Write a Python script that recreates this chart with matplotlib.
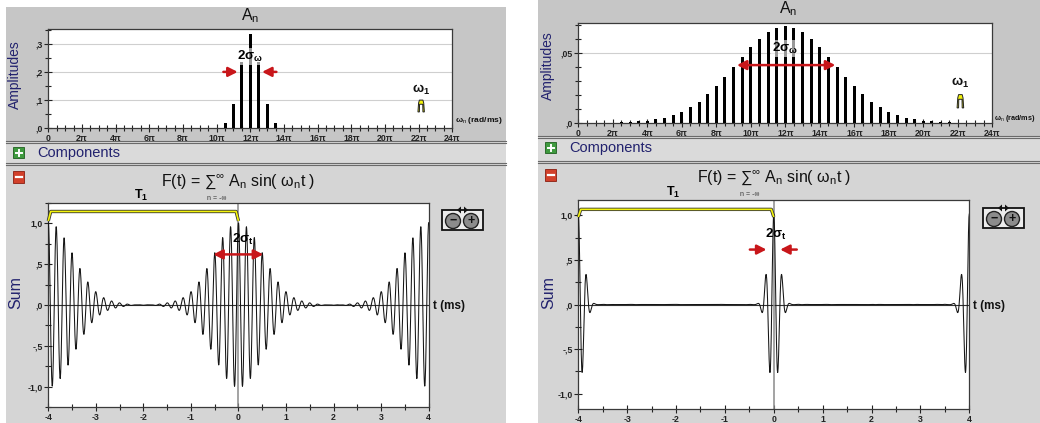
import numpy as np
import matplotlib
matplotlib.use("Agg")
import matplotlib.pyplot as plt
from matplotlib.patches import Rectangle, Circle, Polygon
from matplotlib.ticker import FixedLocator, MultipleLocator

plt.rcParams['font.family'] = ['Liberation Sans', 'DejaVu Sans']
plt.rcParams['mathtext.fontset'] = 'custom'
plt.rcParams['mathtext.rm'] = 'Liberation Sans'
plt.rcParams['mathtext.it'] = 'Liberation Sans:italic'
plt.rcParams['mathtext.bf'] = 'Liberation Sans:bold'

# ---------------- data ----------------
PI = np.pi
harmonic_step = PI / 2          # omega_1 (rad/ms), T1 = 4 ms

left_harmonics = [21, 22, 23, 24, 25, 26, 27]
left_amplitudes = [0.018, 0.085, 0.235, 0.333, 0.235, 0.085, 0.018]

right_harmonics = list(range(1, 49))
right_amplitudes = [0.0002, 0.0003, 0.0004, 0.0005, 0.0007, 0.0010, 0.0014, 0.0020,
                    0.0028, 0.0040, 0.0058, 0.0083, 0.0114, 0.0155, 0.0207, 0.0267,
                    0.0333, 0.0405, 0.0476, 0.0543, 0.0602, 0.0655, 0.0683, 0.0695,
                    0.0683, 0.0655, 0.0602, 0.0543, 0.0476, 0.0405, 0.0333, 0.0267,
                    0.0207, 0.0155, 0.0114, 0.0083, 0.0058, 0.0040, 0.0028, 0.0020,
                    0.0014, 0.0010, 0.0007, 0.0005, 0.0004, 0.0003, 0.0002, 0.0002]

freq_tick_multiples = list(range(0, 25, 2))
freq_tick_labels = ["0"] + [f"{k}π" for k in freq_tick_multiples[1:]]
time_ticks = [-4, -3, -2, -1, 0, 1, 2, 3, 4]
time_tick_labels = ["-4", "-3", "-2", "-1", "0", "1", "2", "3", "4"]
sum_ticks = [-1.0, -0.5, 0.0, 0.5, 1.0]
sum_tick_labels = ["-1,0", "-,5", ",0", ",5", "1,0"]
left_amp_ticks = [0.0, 0.1, 0.2, 0.3]
left_amp_labels = [",0", ",1", ",2", ",3"]
right_amp_ticks = [0.0, 0.05]
right_amp_labels = [",0", ",05"]

# ---------------- figure ----------------
W, H = 1040, 423
fig = plt.figure(figsize=(W / 100, H / 100), dpi=100)
bg = fig.add_axes([0, 0, 1, 1], zorder=0)
bg.set_xlim(0, W)
bg.set_ylim(H, 0)
bg.axis('off')

NAVY = '#22226e'
RED = '#c8161a'
TOP_GRAY = '#c6c6c6'
COMP_GRAY = '#dadada'
BOT_GRAY = '#d5d5d5'


def px_axes(x0, y0, x1, y1, z=2):
    return fig.add_axes([x0 / W, 1 - y1 / H, (x1 - x0) / W, (y1 - y0) / H], zorder=z)


def panel(x0, x1, ytop, ycomp, ybot):
    bg.add_patch(Rectangle((x0, ytop), x1 - x0, ycomp - ytop, fc=TOP_GRAY, ec='none'))
    bg.add_patch(Rectangle((x0, ycomp), x1 - x0, ybot - ycomp, fc=COMP_GRAY, ec='none'))
    bg.add_patch(Rectangle((x0, ybot), x1 - x0, H - ybot, fc=BOT_GRAY, ec='none'))
    for yy in (ycomp - 1.2, ycomp + 1.5, ybot - 1.2, ybot + 1.5):
        bg.plot([x0, x1], [yy, yy], color='#6a6a6a', lw=0.8)
    # plus icon
    px, py = x0 + 7, ycomp + 5.5
    bg.add_patch(Rectangle((px, py), 11, 11, fc='#3f9a3f', ec='#1f5f1f', lw=0.6))
    bg.plot([px + 2.5, px + 8.5], [py + 5.5, py + 5.5], color='white', lw=1.4)
    bg.plot([px + 5.5, px + 5.5], [py + 2.5, py + 8.5], color='white', lw=1.4)
    bg.text(px + 24, py + 5.5, "Components", color=NAVY, fontsize=10.5, va='center', ha='left')
    # minus icon
    mx, my = x0 + 7, ybot + 7
    bg.add_patch(Rectangle((mx, my), 11, 12, fc='#d2402a', ec='#8a1e10', lw=0.6))
    bg.plot([mx + 2.5, mx + 8.5], [my + 6, my + 6], color='white', lw=1.6)


panel(6, 506, 7, 142, 164)
panel(538, 1040, 0, 137, 162)


def zoom_icon(x0, y0):
    bg.add_patch(Rectangle((x0, y0 + 4), 41, 20, fc='#ececec', ec='#111111', lw=1.3))
    for cx, sym in ((x0 + 11, '−'), (x0 + 29, '+')):
        bg.add_patch(Circle((cx, y0 + 15), 7.5, fc='#8c8c8c', ec='#222222', lw=1.0))
        bg.text(cx, y0 + 15, sym, color='#111111', fontsize=9, fontweight='bold',
                ha='center', va='center')
    bg.add_patch(Polygon([[x0 + 19, y0 + 0.5], [x0 + 19, y0 + 7.5], [x0 + 15, y0 + 4]],
                         fc='#111111', ec='none'))
    bg.add_patch(Polygon([[x0 + 22, y0 + 0.5], [x0 + 22, y0 + 7.5], [x0 + 26, y0 + 4]],
                         fc='#111111', ec='none'))


zoom_icon(442, 206)
zoom_icon(983, 204)


def style_axes(ax):
    for s in ax.spines.values():
        s.set_color('#3a3a3a')
        s.set_linewidth(0.9)
    ax.set_facecolor('white')
    ax.tick_params(which='both', direction='inout', colors='#222222', labelsize=6.3,
                   width=0.8, pad=1.0)
    ax.tick_params(which='major', length=6)
    ax.tick_params(which='minor', length=5)
    for lab in ax.get_xticklabels() + ax.get_yticklabels():
        lab.set_fontweight('bold')


def omega1_marker(ax, xc, yl, yh, ylabel):
    dx = 0.6
    ax.add_patch(Polygon([[xc - dx, yl], [xc - dx * 0.8, yh - (yh - yl) * 0.25],
                          [xc - dx * 0.55, yh], [xc + dx * 0.55, yh],
                          [xc + dx * 0.8, yh - (yh - yl) * 0.25], [xc + dx, yl],
                          [xc + dx * 0.55, yl], [xc + dx * 0.5, yh - (yh - yl) * 0.35],
                          [xc - dx * 0.5, yh - (yh - yl) * 0.35], [xc - dx * 0.55, yl]],
                         closed=True, fc='#f2f20a', ec='#222222', lw=0.7, zorder=4))
    ax.text(xc, ylabel, "ω$_\\mathbf{1}$", fontsize=9.5, fontweight='bold', ha='center',
            va='center', color='#111111')


def spectrum(ax, harmonics, amps, ymax, yticks, ylabels, minor_step, grid_vals):
    x = np.array(harmonics) * harmonic_step
    ax.bar(x, amps, width=0.55, color='black', zorder=3)
    ax.set_xlim(0, 24 * PI)
    ax.set_ylim(0, ymax)
    ax.xaxis.set_major_locator(FixedLocator([k * PI for k in freq_tick_multiples]))
    ax.set_xticklabels(freq_tick_labels)
    ax.xaxis.set_minor_locator(MultipleLocator(harmonic_step))
    ax.yaxis.set_major_locator(FixedLocator(yticks))
    ax.set_yticklabels(ylabels)
    ax.yaxis.set_minor_locator(MultipleLocator(minor_step))
    for g in grid_vals:
        ax.axhline(g, color='#cfcfcf', lw=0.8, zorder=1)
    style_axes(ax)


def sum_plot(ax, harmonics, amps, npts, ylim):
    t = np.linspace(-4, 4, npts)
    w = np.array(harmonics) * harmonic_step
    F = (np.array(amps)[:, None] * np.cos(w[:, None] * t[None, :])).sum(axis=0)
    ax.axhline(0, color='#333333', lw=0.8, zorder=2)
    ax.axvline(0, color='#8a8a8a', lw=1.1, zorder=2)
    ax.plot(t, F, color='#151515', lw=0.75, zorder=3)
    ax.set_xlim(-4, 4)
    ax.set_ylim(-ylim, ylim)
    ax.xaxis.set_major_locator(FixedLocator(time_ticks))
    ax.set_xticklabels(time_tick_labels)
    ax.xaxis.set_minor_locator(MultipleLocator(0.5))
    ax.yaxis.set_major_locator(FixedLocator(sum_ticks))
    ax.set_yticklabels(sum_tick_labels)
    ax.yaxis.set_minor_locator(MultipleLocator(0.25))
    style_axes(ax)


def t1_bracket(ax, y, ylo, labely):
    xs = [-4, -3.95, -0.05, 0]
    ys = [ylo, y, y, ylo]
    ax.plot(xs, ys, color='#333333', lw=2.4, zorder=5, solid_capstyle='butt', clip_on=False)
    ax.plot(xs, ys, color='#f4f40c', lw=1.2, zorder=6, solid_capstyle='butt', clip_on=False)
    ax.text(-2.05, labely, "T$_\\mathbf{1}$", fontsize=9, fontweight='bold', ha='center',
            va='center', clip_on=False)


def arrow(ax, x0, y0, x1, y1, style='-|>'):
    ax.annotate('', xy=(x1, y1), xytext=(x0, y0),
                arrowprops=dict(arrowstyle=style + ',head_length=0.55,head_width=0.28',
                                color=RED, lw=1.8, shrinkA=0, shrinkB=0), zorder=7)


label_box = dict(boxstyle='square,pad=0.1', fc='white', ec='none', alpha=0.6)

# ---------------- left panel ----------------
axLT = px_axes(48.3, 29.3, 452.3, 128.3)
spectrum(axLT, left_harmonics, left_amplitudes, 0.351, left_amp_ticks, left_amp_labels,
         0.05, [0.1, 0.2, 0.3])
arrow(axLT, 10.4 * PI, 0.2, 11.25 * PI, 0.2)
arrow(axLT, 13.55 * PI, 0.2, 12.7 * PI, 0.2)
axLT.text(12 * PI, 0.255, "2σ$_\\mathbf{ω}$", fontsize=9.5, fontweight='bold',
          ha='center', va='center', bbox=label_box, zorder=6)
omega1_marker(axLT, 22.15 * PI, 0.058, 0.1, 0.135)

axLB = px_axes(48.3, 203, 428.7, 407)
sum_plot(axLB, left_harmonics, left_amplitudes, 1600, 1.25)
t1_bracket(axLB, 1.146, 1.03, 1.34)
arrow(axLB, -0.53, 0.62, 0.52, 0.62, style='<|-|>')
axLB.text(0.1, 0.8, "2σ$_\\mathbf{t}$", fontsize=9.5, fontweight='bold', ha='center',
          va='center', zorder=6)

# ---------------- right panel ----------------
axRT = px_axes(578.3, 22.7, 992.3, 123.3)
spectrum(axRT, right_harmonics, right_amplitudes, 0.0719, right_amp_ticks, right_amp_labels,
         0.01, [0.05])
arrow(axRT, 9.2 * PI, 0.0416, 14.9 * PI, 0.0416, style='<|-|>')
axRT.text(12 * PI, 0.0535, "2σ$_\\mathbf{ω}$", fontsize=9.5, fontweight='bold',
          ha='center', va='center', bbox=label_box, zorder=6)
omega1_marker(axRT, 22.15 * PI, 0.011, 0.0205, 0.0288)

axRB = px_axes(578.3, 200, 969.3, 409)
sum_plot(axRB, right_harmonics, right_amplitudes, 2400, 1.17)
t1_bracket(axRB, 1.065, 0.98, 1.25)
arrow(axRB, -0.49, 0.615, -0.15, 0.615)
arrow(axRB, 0.47, 0.615, 0.13, 0.615)
axRB.text(0.05, 0.78, "2σ$_\\mathbf{t}$", fontsize=9.5, fontweight='bold', ha='center',
          va='center', zorder=6)

# ---------------- texts in pixel space ----------------
formula = "F(t) = ∑$^{\\infty}$ A$_\\mathrm{n}$ sin( ω$_\\mathrm{n}$t )"
for cx, cy, ncx, ncy in ((238, 182, 217, 199), (774, 178, 750, 195)):
    bg.text(cx, cy, formula, fontsize=11.5, ha='center', va='center', color='#111111')
    bg.text(ncx, ncy, "n = -∞", fontsize=5, ha='center', va='center', color='#333333')

for cx, cy in ((250, 16), (788, 9)):
    bg.text(cx, cy, "A$_\\mathrm{n}$", fontsize=11.5, ha='center', va='center', color='#111111')

for x, y in ((15, 75), (548, 66)):
    bg.text(x, y, "Amplitudes", fontsize=10, rotation=90, ha='center', va='center', color=NAVY)
for x, y in ((16, 293), (549, 293)):
    bg.text(x, y, "Sum", fontsize=11.5, rotation=90, ha='center', va='center', color=NAVY)

bg.text(455, 120, "ω$_\\mathrm{n}$ (rad/ms)", fontsize=6, ha='left', va='center',
        color='#111111', fontweight='bold')
bg.text(994, 119, "ω$_\\mathrm{n}$ (rad/ms)", fontsize=5.2, ha='left', va='center',
        color='#111111', fontweight='bold')
for x, y in ((433, 306), (973, 306)):
    bg.text(x, y, "t (ms)", fontsize=8.5, ha='left', va='center', color='#111111',
            fontweight='bold')

fig.savefig("out.png", dpi=100)
